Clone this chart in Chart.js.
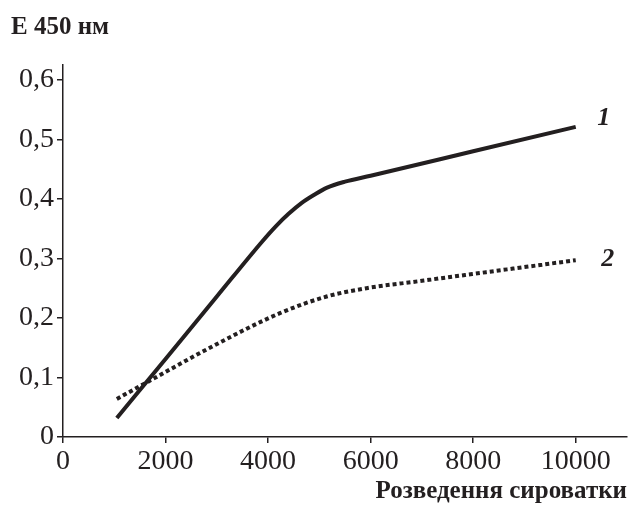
<!DOCTYPE html>
<html>
<head>
<meta charset="utf-8">
<script src="https://cdn.jsdelivr.net/npm/chart.js@4"></script>
<style>
    html, body { margin: 0; padding: 0; background: #fff; }
    #wrap { width: 629px; height: 511px; }
</style>
</head>
<body>
<div id="wrap"><canvas id="chart"></canvas></div>
<script>
// values
const dilution1 = [1050, 2000, 3000, 3890, 4150, 4400, 4650, 4900, 5150, 5500, 6000, 8000, 10000];
const optical1 = [0.032, 0.131, 0.236, 0.329, 0.354, 0.375, 0.393, 0.407, 0.419, 0.429, 0.439, 0.480, 0.521];
const dilution2 = [1050, 1660, 2865, 4230, 5140, 5920, 6960, 8000, 10000];
const optical2 = [0.064, 0.093, 0.150, 0.208, 0.236, 0.250, 0.262, 0.274, 0.297];
const xTicks = [0, 2000, 4000, 6000, 8000, 10000];
const yTicks = [0, 0.1, 0.2, 0.3, 0.4, 0.5, 0.6];
const yTickLabels = ['0', '0,1', '0,2', '0,3', '0,4', '0,5', '0,6'];
const seriesNames = ['1', '2'];
const yTitle = 'E 450 нм';
const xTitle = 'Розведення сироватки';

const toPoints = (xs, ys) => xs.map((x, i) => ({ x: x, y: ys[i] }));

const serif = '"Liberation Serif", "Times New Roman", serif';
const ink = '#231f20';

// draws "E 450 нм" on top and the curve numbers next to the line ends
const extraText = {
    id: 'extraText',
    afterDatasetsDraw(chart) {
        const ctx = chart.ctx;
        ctx.save();
        ctx.fillStyle = ink;
        ctx.font = 'bold 25px ' + serif;
        ctx.textAlign = 'left';
        ctx.textBaseline = 'middle';
        ctx.fillText(yTitle, 11, 28);

        const offsets = [[28, -9], [32, -1]];
        ctx.font = 'italic bold 26px ' + serif;
        ctx.textAlign = 'center';
        chart.data.datasets.forEach((ds, i) => {
            const meta = chart.getDatasetMeta(i);
            const last = meta.data[meta.data.length - 1];
            ctx.fillText(seriesNames[i], last.x + offsets[i][0], last.y + offsets[i][1]);
        });
        ctx.restore();
    }
};

const axisGrid = {
    display: true,
    drawOnChartArea: false,
    drawTicks: true,
    tickLength: 6,
    color: ink,
    lineWidth: 1.5
};

const ctx = document.getElementById('chart');
new Chart(ctx, {
    type: 'line',
    data: {
        datasets: [
            {
                label: seriesNames[0],
                data: toPoints(dilution1, optical1),
                borderColor: ink,
                borderWidth: 4,
                pointRadius: 0,
                cubicInterpolationMode: 'monotone',
                borderCapStyle: 'butt'
            },
            {
                label: seriesNames[1],
                data: toPoints(dilution2, optical2),
                borderColor: ink,
                borderWidth: 4,
                borderDash: [4, 3],
                pointRadius: 0,
                cubicInterpolationMode: 'monotone',
                borderCapStyle: 'butt'
            }
        ]
    },
    options: {
        responsive: true,
        maintainAspectRatio: false,
        animation: false,
        layout: { padding: { top: 65, right: 2, left: 0, bottom: 0 } },
        plugins: {
            legend: { display: false },
            tooltip: { enabled: false }
        },
        scales: {
            x: {
                type: 'linear',
                min: 0,
                max: 11000,
                afterFit: (scale) => { scale.height = 74; },
                afterBuildTicks: (scale) => {
                    scale.ticks = xTicks.map(v => ({ value: v }));
                },
                grid: axisGrid,
                border: { display: true, color: ink, width: 1.5 },
                ticks: {
                    autoSkip: false,
                    color: ink,
                    font: { family: serif, size: 28 },
                    padding: 2,
                    maxRotation: 0,
                    callback: (v) => String(v)
                },
                title: {
                    display: true,
                    text: xTitle,
                    align: 'end',
                    color: ink,
                    font: { family: serif, size: 25, weight: 'bold' },
                    padding: { top: 6 }
                }
            },
            y: {
                min: 0,
                max: 0.625,
                afterFit: (scale) => { scale.width = 63; },
                afterBuildTicks: (scale) => {
                    scale.ticks = yTicks.map(v => ({ value: v }));
                },
                grid: axisGrid,
                border: { display: true, color: ink, width: 1.5 },
                ticks: {
                    autoSkip: false,
                    color: ink,
                    font: { family: serif, size: 28 },
                    padding: 3,
                    callback: (v, i) => yTickLabels[i]
                }
            }
        }
    },
    plugins: [extraText]
});
</script>
</body>
</html>
